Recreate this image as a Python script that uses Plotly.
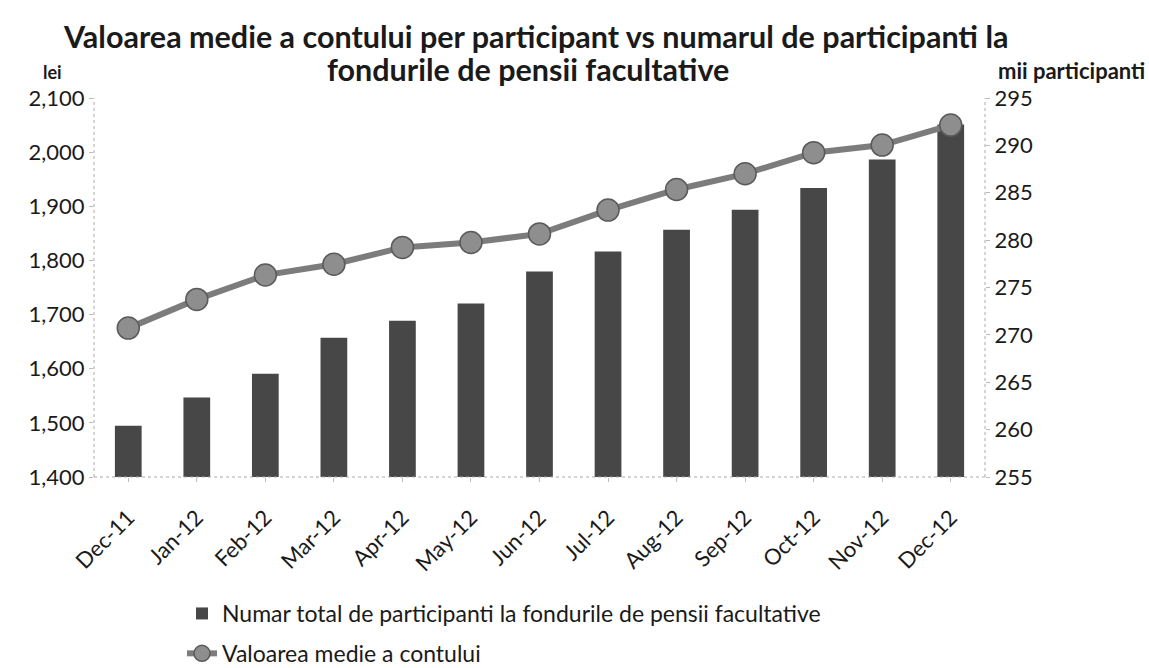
import plotly.graph_objects as go

months = ["Dec-11", "Jan-12", "Feb-12", "Mar-12", "Apr-12", "May-12", "Jun-12",
          "Jul-12", "Aug-12", "Sep-12", "Oct-12", "Nov-12", "Dec-12"]
participants = [260.4, 263.4, 265.9, 269.7, 271.5, 273.3, 276.7,
                278.8, 281.1, 283.2, 285.5, 288.5, 292.2]
avg_value = [1675, 1728, 1773, 1793, 1824, 1833, 1849,
             1893, 1931, 1960, 1999, 2013, 2050]

bar_name = "Numar total de participanti la fondurile de pensii facultative"
line_name = "Valoarea medie a contului"
title_line1 = "Valoarea medie a contului per participant vs numarul de participanti la"
title_line2 = "fondurile de pensii facultative"

FONT = "Lato"
W, H = 1149, 668
L, R, T, B = 94, 164, 98, 191

fig = go.Figure()
fig.add_trace(go.Bar(
    x=months, y=participants, name=bar_name, yaxis="y",
    marker=dict(color="#474747", line=dict(width=0)),
    width=0.39, legendgroup="a",
))
fig.add_trace(go.Scatter(
    x=months, y=avg_value, name=line_name, yaxis="y2", mode="lines+markers",
    line=dict(color="#7c7c7c", width=6),
    marker=dict(size=22, color="#8e8e8e", line=dict(color="#5a5a5a", width=1.5)),
    legendgroup="b",
))

def cx(px):
    return (px - L) / (W - L - R)

def cy(py):
    return (H - B - py) / (H - T - B)

fig.update_layout(
    width=W, height=H,
    paper_bgcolor="white", plot_bgcolor="white",
    margin=dict(l=L, r=R, t=T, b=B, autoexpand=False),
    font=dict(family=FONT, color="#1a1a1a"),
    showlegend=True,
    legend=dict(x=cx(182), xanchor="left", y=cy(592), yanchor="top",
                font=dict(size=23, family=FONT), traceorder="grouped",
                tracegroupgap=7, bgcolor="rgba(0,0,0,0)"),
    xaxis=dict(
        tickangle=-45, tickfont=dict(size=22, family=FONT),
        showline=False, showgrid=False, ticks="outside", ticklen=4,
        tickcolor="#bbbbbb", range=[-0.5, 12.5], ticklabelstandoff=14,
    ),
    yaxis=dict(
        side="right", range=[255, 295], dtick=5, showgrid=False,
        showline=False, ticks="outside", ticklen=4, tickcolor="#bbbbbb",
        tickfont=dict(size=22, family=FONT), zeroline=False,
    ),
    yaxis2=dict(
        side="left", overlaying="y", range=[1400, 2100], dtick=100,
        tickformat=",", showgrid=False, showline=False, ticks="outside",
        ticklen=4, tickcolor="#bbbbbb", tickfont=dict(size=22, family=FONT),
        zeroline=False,
    ),
    shapes=[
        dict(type="line", xref="paper", yref="paper", x0=0, x1=0, y0=0, y1=1,
             line=dict(color="#aaaaaa", width=1, dash="dot")),
        dict(type="line", xref="paper", yref="paper", x0=1, x1=1, y0=0, y1=1,
             line=dict(color="#aaaaaa", width=1, dash="dot")),
        dict(type="line", xref="paper", yref="paper", x0=0, x1=1, y0=0, y1=0,
             line=dict(color="#aaaaaa", width=1, dash="dot")),
    ],
    annotations=[
        dict(text="<b>" + title_line1 + "</b>", xref="paper", yref="paper",
             x=cx(535), y=cy(36), xanchor="center", yanchor="middle", showarrow=False,
             font=dict(size=30.5, family=FONT, color="#1a1a1a")),
        dict(text="<b>" + title_line2 + "</b>", xref="paper", yref="paper",
             x=cx(528), y=cy(69), xanchor="center", yanchor="middle", showarrow=False,
             font=dict(size=30.5, family=FONT, color="#1a1a1a")),
        dict(text="<b>lei</b>", xref="paper", yref="paper", x=cx(64), y=cy(72),
             xanchor="right", yanchor="middle", showarrow=False,
             font=dict(size=18, family=FONT, color="#1a1a1a")),
        dict(text="<b>mii participanti</b>", xref="paper", yref="paper",
             x=cx(1147), y=cy(70), xanchor="right", yanchor="middle", showarrow=False,
             font=dict(size=22, family=FONT, color="#1a1a1a")),
    ],
)

fig.write_html(
    "out.html",
    config={"displayModeBar": False},
    post_script="document.body.style.margin='0';"
                "document.documentElement.style.overflow='hidden';",
)
